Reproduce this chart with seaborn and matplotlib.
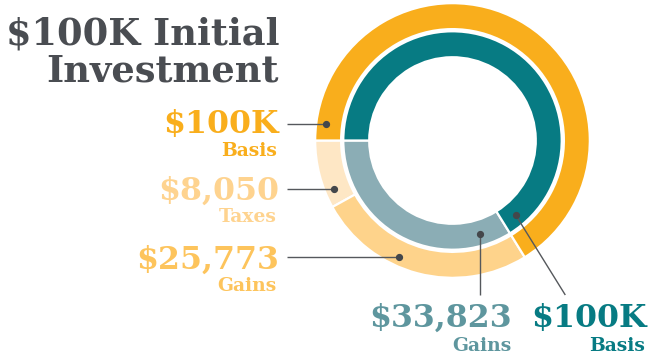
import matplotlib
matplotlib.use("Agg")
import matplotlib.pyplot as plt
import seaborn as sns
import numpy as np

# Data
initial = 100_000
outer_names = ["Taxes", "Gains"]          # after-tax scenario, outer ring
outer_values = [8_050, 25_773]
inner_names = ["Gains"]                   # tax-deferred scenario, inner ring
inner_values = [33_823]

outer_colors = ["#FEE7C5", "#FED38B", "#F9AE1C"]   # taxes, gains, basis
inner_colors = ["#8BADB5", "#077B83"]              # gains, basis
outer_text_colors = ["#F9AE1C", "#FED38F", "#FDC45C"]  # basis, taxes, gains
inner_text_colors = ["#5E969E", "#077B83"]            # gains, basis
title_color = "#4A4D52"
line_color = "#55585c"

sns.set_theme(style="white")
plt.rcParams["font.family"] = ["DejaVu Serif", "DejaVu Sans"]

W, H = 650, 356
fig = plt.figure(figsize=(W / 100, H / 100), dpi=100)
ax = fig.add_axes([0, 0, 1, 1])

# pixel geometry of the rings
cx, cy, R = 452.5, 140.5, 136.5


def to_data(x, y):
    return (x - cx) / R, (cy - y) / R


outer_sizes = outer_values + [initial - sum(outer_values)]
inner_sizes = inner_values + [initial - sum(inner_values)]

wedge_kw = dict(edgecolor="white", linewidth=1.6)
ax.pie(outer_sizes, colors=outer_colors, radius=1.006, startangle=180,
       counterclock=True, wedgeprops=dict(width=0.19, **wedge_kw))
ax.pie(inner_sizes, colors=inner_colors, radius=0.80, startangle=180,
       counterclock=True, wedgeprops=dict(width=0.19, **wedge_kw))

x0, y0 = to_data(0, H)
x1, y1 = to_data(W, 0)
ax.set_xlim(x0, x1)
ax.set_ylim(y0, y1)
ax.set_aspect("auto")
ax.axis("off")


def fig_text(x, y, s, size, color, ha="right"):
    fig.text(x / W, 1 - y / H, s, fontsize=size, color=color, ha=ha,
             va="baseline", fontweight="bold")


# Title
fig_text(279, 44, "$100K Initial", 26.5, title_color)
fig_text(279, 82, "Investment", 26.5, title_color)

# Outer ring labels (left side)
left_items = [("$100K", "Basis", outer_text_colors[0], 133, 156, 124.3)]
for name, val, col, (vb, sb, ly) in zip(
        outer_names, outer_values, outer_text_colors[1:],
        [(200, 222, 189.0), (269, 291, 256.7)]):
    left_items.append((f"${val:,}", name, col, vb, sb, ly))

r_dot = 128 / R
for value_txt, sub, col, vb, sb, ly in left_items:
    fig_text(279, vb, value_txt, 22.8, col)
    fig_text(277, sb, sub, 13.5, col)
    _, yd = to_data(0, ly)
    xd = -np.sqrt(r_dot ** 2 - yd ** 2)
    xs, _ = to_data(287, ly)
    ax.plot([xs, xd], [yd, yd], color=line_color, lw=1.0, solid_capstyle="butt")
    ax.plot(xd, yd, "o", color="#44474b", ms=4.2)

# Inner ring labels (bottom)
fig_text(512, 327, f"${inner_values[0]:,}", 22.8, inner_text_colors[0])
fig_text(511, 351, inner_names[0], 13.5, inner_text_colors[0])
fig_text(647, 327, "$100K", 22.8, inner_text_colors[1])
fig_text(645, 351, "Basis", 13.5, inner_text_colors[1])

r_in = 97.5 / R
for ang, end in [(286.4, (480.0, 295)), (310.3, (565.3, 295))]:
    a = np.deg2rad(ang)
    xd, yd = r_in * np.cos(a), r_in * np.sin(a)
    xe, ye = to_data(*end)
    if abs(xe - xd) < 0.02:
        xe = xd
    ax.plot([xd, xe], [yd, ye], color=line_color, lw=1.0, solid_capstyle="butt")
    ax.plot(xd, yd, "o", color="#44474b", ms=4.2)

fig.savefig("out.png", dpi=100, facecolor="white")
